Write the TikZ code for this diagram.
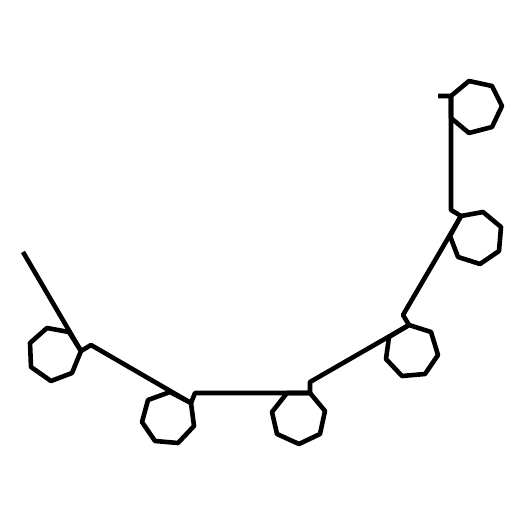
\documentclass[tikz,border=0pt]{standalone}
\tikzset{bond/.style={draw=black,line width=4.6pt,line join=round,line cap=butt}}
\begin{document}
\begin{tikzpicture}[x=1pt,y=-1pt]
\useasboundingbox[fill=white] (0,0) rectangle (525,525);
\foreach \n/\p in {a1/{69,332},a2/{81,351},a3/{72,373},a4/{51,381},a5/{31,367},a6/{30,343},a7/{47,328},
 b1/{170,392},b2/{191,403},b3/{194,426},b4/{178,443},b5/{155,441},b6/{142,422},b7/{148,400},
 c1/{287,393},c2/{310,393},c3/{325,411},c4/{320,434},c5/{299,444},c6/{277,434},c7/{272,412},
 d1/{409,325},d2/{431,332},d3/{438,355},d4/{425,374},d5/{402,376},d6/{386,359},d7/{389,337},
 e1/{461,216},e2/{483,212},e3/{501,227},e4/{499,251},e5/{480,264},e6/{458,257},e7/{450,236},
 f1/{451,96},f2/{469,81},f3/{492,86},f4/{502,106},f5/{492,127},f6/{469,133},f7/{451,118}}
 {\coordinate (\n) at (\p);}
\coordinate (t0) at (23,252);
\coordinate (j1) at (91,345);
\coordinate (j2) at (195,393);
\coordinate (j3) at (310,382);
\coordinate (j4) at (403,315);
\coordinate (j5) at (451,210);
\coordinate (t1) at (438,96);
\draw[bond] (a1)--(a2)--(a3)--(a4)--(a5)--(a6)--(a7)--cycle;
\draw[bond] (b1)--(b2)--(b3)--(b4)--(b5)--(b6)--(b7)--cycle;
\draw[bond] (c1)--(c2)--(c3)--(c4)--(c5)--(c6)--(c7)--cycle;
\draw[bond] (d1)--(d2)--(d3)--(d4)--(d5)--(d6)--(d7)--cycle;
\draw[bond] (e1)--(e2)--(e3)--(e4)--(e5)--(e6)--(e7)--cycle;
\draw[bond] (f1)--(f2)--(f3)--(f4)--(f5)--(f6)--(f7)--cycle;
\draw[bond] (t0)--(a2)--(j1)--(b2)--(j2)--(c2)--(j3)--(d1)--(j4)--(e1)--(j5)--(f1)--(t1);
\end{tikzpicture}
\end{document}
